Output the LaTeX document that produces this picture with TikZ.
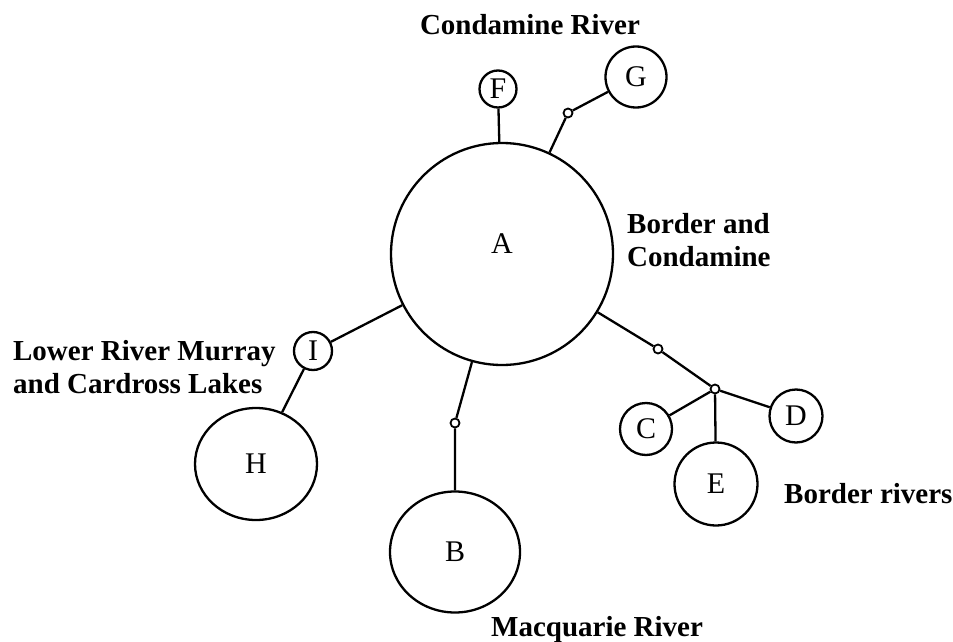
\documentclass[tikz,border=0pt]{standalone}
\usepackage{fontspec}
\setmainfont{Liberation Serif}
\usetikzlibrary{shapes.geometric}

\begin{document}
\begin{tikzpicture}[x=1pt, y=-1pt, line width=2.3pt,
  hap/.style={draw, circle, inner sep=0pt, font=\fontsize{30}{33}\selectfont},
  hapel/.style={draw, ellipse, inner sep=0pt, font=\fontsize{30}{33}\selectfont},
  mid/.style={draw, circle, fill=white, minimum size=9pt, inner sep=0pt, line width=1.8pt},
  region/.style={font=\bfseries\fontsize{29}{33}\selectfont, align=left, inner sep=0pt}
]
  \useasboundingbox (0,0) rectangle (953,642);
  % haplotypes
  \node[hap, minimum size=222pt] (A) at (502,254) {\raisebox{1pt}[0pt][0pt]{A}};
  \node[hap, minimum size=37pt] (F) at (498,89) {F};
  \node[hap, minimum size=61pt] (G) at (636,77) {G};
  \node[hap, minimum size=38pt] (I) at (313,351) {I};
  \node[hapel, minimum width=122pt, minimum height=112pt] (H) at (256,464) {H};
  \node[hapel, minimum width=130pt, minimum height=121pt] (B) at (455,552) {B};
  \node[hap, minimum size=52pt] (C) at (646,429) {C};
  \node[hap, minimum size=53pt] (D) at (796,416) {D};
  \node[hap, minimum size=83pt] (E) at (716,484) {E};
  % missing haplotypes
  \node[mid] (g1) at (568,113) {};
  \node[mid] (b1) at (455,423) {};
  \node[mid] (c1) at (658,349) {};
  \node[mid] (j1) at (715,389) {};
  % regions
  \node[region, anchor=base] (lblG) at (530,35) {Condamine River};
  \node[region, anchor=north west] (lblA) at (626,212) {Border and\\Condamine};
  \node[region, anchor=north west] (lblI) at (12,339) {Lower River Murray\\and Cardross Lakes};
  \node[region, anchor=base west] (lblE) at (783,503) {Border rivers};
  \node[region, anchor=base west] (lblB) at (490,636) {Macquarie River};
  % links
  \draw (A) -- (F);
  \draw (A) -- (g1) -- (G);
  \draw (A) -- (I) -- (H);
  \draw (A) -- (b1) -- (B);
  \draw (A) -- (c1) -- (j1);
  \draw (j1) -- (C);
  \draw (j1) -- (D);
  \draw (j1) -- (E);
\end{tikzpicture}
\end{document}
